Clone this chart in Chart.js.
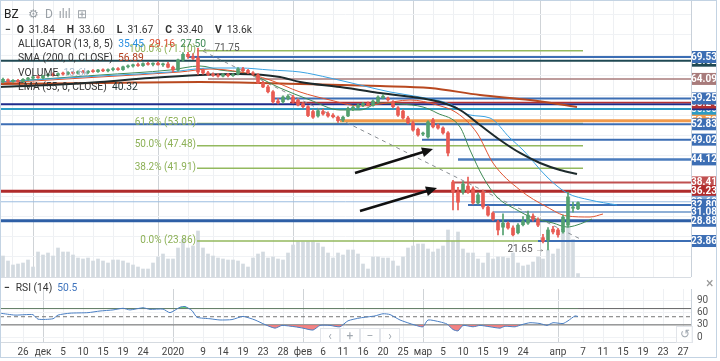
<!DOCTYPE html>
<html>
<head>
<meta charset="utf-8">
<script src="https://cdn.jsdelivr.net/npm/chart.js@4.4.1/dist/chart.umd.min.js"></script>
<style>
  body { margin: 0; background: #fff; }
  #wrap { position: relative; width: 720px; height: 361px; overflow: hidden; font-family: Roboto, "Noto Sans", sans-serif; }
  canvas { position: absolute; left: 0; }
  .row { position: absolute; left: 18px; font-size: 10.3px; color: #333; white-space: nowrap; line-height: 13px; }
  .row b { margin-right: 5px; }
  .row .v { margin-right: 12px; }
  .btn { position: absolute; top: 328px; width: 20px; height: 15px; color: #a0a8b0; font-size: 12px; line-height: 15px; text-align: center; background: rgba(255,255,255,0.8); border: 1px solid #e2e5ea; box-sizing: border-box; }
  #frame { position: absolute; left: 0; top: 0; width: 717px; height: 358px; border: 1px solid #c3d3e3; box-sizing: border-box; pointer-events: none; }
</style>
</head>
<body>
<div id="wrap">
  <canvas id="main" width="720" height="277" style="top:0"></canvas>
  <canvas id="rsi" width="720" height="84" style="top:277px"></canvas>
  <div style="position:absolute;left:0;top:277px;width:691px;height:1px;background:#d8dde3"></div>

  <div class="row" style="left:4px;top:8px;font-size:12px;color:#222">BZ</div>
  <div class="row" style="left:28px;top:8px;font-size:12px;color:#9aa0a6">⚙ &nbsp;D &nbsp;ılıl &nbsp;⊞</div>
  <div class="row" style="left:5px;top:23px"><b style="margin-right:6px">−</b><b>O</b><span class="v">31.84</span><b>H</b><span class="v">33.60</span><b>L</b><span class="v">31.67</span><b>C</b><span class="v">33.40</span><b>V</b><span>13.6k</span></div>
  <div class="row" style="top:37px">ALLIGATOR (13, 8, 5) &nbsp;<span style="color:#2a8fe0">35.45</span> &nbsp;<span style="color:#d9492b">29.16</span> &nbsp;<span style="color:#3f8a55">27.50</span></div>
  <div class="row" style="top:51px">SMA (200, 0, CLOSE) &nbsp;<span style="color:#b23c1c">56.89</span></div>
  <div class="row" style="top:66px">VOLUME &nbsp;<span style="color:#a9bccd">13.6k</span></div>
  <div class="row" style="top:80px">EMA (55, 0, CLOSE) &nbsp;<span style="color:#223333">40.32</span></div>

  <div class="row" style="left:4px;top:281px"><b style="margin-right:6px">−</b>RSI (14) &nbsp;<span style="color:#3f74bd">50.5</span></div>
  <div style="position:absolute;left:706px;top:275px;color:#999;font-size:14px">×</div>

  <div class="btn" style="left:320px">‹</div>
  <div class="btn" style="left:340px">+</div>
  <div class="btn" style="left:360px">−</div>
  <div class="btn" style="left:380px">›</div>
  <div class="btn" style="left:676px;top:326px;width:17px;height:17px">↺</div>
  <div id="frame"></div>
</div>

<script>
'use strict';

// date axis
const dateLabels = ['26','дек','5','10','15','19','24','2020','9','14','19','23','28','фев','6','11','16','20','25','мар','5','10','15','19','24','апр','7','11','15','19','23','27'];
const dateIdx = [4,8,12,16,20,24,28,34,40,44,48,52,56,60,64,68,72,76,80,84,88,92,96,100,104,111,116,120,124,128,132,136];
const monthIdx = [8,34,60,84,111];

// daily candles
const opens = [63.4,63.9,63.5,63.7,63.4,64.0,64.3,64.6,64.4,64.9,65.2,65.0,65.4,65.3,65.7,65.5,65.9,65.7,66.0,65.9,
  66.3,66.1,66.4,66.6,66.4,67.1,67.3,67.6,67.4,67.9,67.7,68.0,67.6,67.8,67.0,66.3,68.8,70.2,69.6,69.3,
  66.3,65.6,65.2,65.0,64.8,65.2,64.9,65.3,66.6,66.2,65.6,65.1,63.1,62.1,60.9,58.6,58.4,59.2,59.6,58.8,
  57.9,57.2,56.0,54.9,56.0,55.5,55.1,54.6,53.9,54.9,56.5,57.0,57.5,58.0,57.5,58.4,59.4,59.3,58.4,56.9,
  56.1,54.4,53.2,51.6,50.4,49.7,53.9,52.6,51.9,50.7,38.5,36.0,36.0,37.5,36.8,33.3,36.0,32.3,30.8,28.6,
  27.3,28.3,27.1,25.9,27.9,28.3,30.0,29.1,24.7,24.1,26.8,26.6,26.1,27.8,32.0,31.84];
const highs = [64.3,64.1,63.9,64.0,64.2,64.5,64.8,65.0,65.0,65.4,65.6,65.6,65.8,65.9,66.0,66.1,66.2,66.2,66.4,66.5,
  66.6,66.6,66.9,66.9,67.3,67.6,67.8,68.0,68.1,68.2,68.1,68.4,68.0,68.2,67.3,69.0,70.6,70.7,70.4,71.75,
  66.6,66.0,65.6,65.4,65.5,65.5,65.4,66.9,67.0,66.5,65.9,65.4,63.5,62.5,61.2,59.2,59.9,60.2,60.0,59.1,
  58.3,57.5,56.4,56.5,56.6,55.9,55.5,54.9,54.9,57.1,57.5,57.9,58.3,58.4,58.9,59.9,60.2,59.6,58.7,57.2,
  56.4,54.8,53.6,51.9,50.9,53.7,54.3,52.9,52.2,51.0,38.9,37.2,38.6,39.7,37.3,35.8,36.5,32.6,31.1,29.0,
  30.6,28.6,27.6,28.2,29.9,31.3,30.6,29.6,25.5,27.2,27.5,27.0,30.3,36.0,33.5,33.60];
const lows = [63.1,63.3,63.2,63.2,63.3,63.7,64.0,64.2,64.1,64.6,64.8,64.8,65.0,65.1,65.3,65.3,65.5,65.4,65.7,65.7,
  65.9,65.8,66.1,66.2,66.2,66.8,67.0,67.2,67.2,67.5,67.3,67.5,67.2,66.8,65.9,66.0,68.5,69.2,68.9,65.2,
  65.3,64.9,64.7,64.5,64.6,64.6,64.7,65.1,65.9,65.4,65.0,62.9,61.9,60.6,58.1,57.9,58.1,58.9,58.1,57.4,
  56.9,54.7,54.3,54.6,55.1,54.6,54.4,53.3,53.5,54.7,56.2,56.7,57.2,57.3,57.3,58.2,59.1,58.6,56.9,54.8,
  54.1,52.9,51.1,49.9,50.0,49.4,51.9,51.6,50.4,45.0,31.6,31.6,35.5,35.7,33.0,33.0,31.8,30.0,29.0,25.4,
  25.4,26.8,25.1,25.6,27.6,28.0,28.8,27.4,23.4,21.65,25.6,24.8,25.8,27.3,31.0,31.67];
const closes = [64.0,63.5,63.7,63.4,64.0,64.3,64.6,64.4,64.9,65.2,65.0,65.4,65.3,65.7,65.5,65.9,65.7,66.0,65.9,66.3,
  66.1,66.4,66.6,66.4,67.1,67.3,67.6,67.4,67.9,67.7,68.0,67.6,67.8,67.0,66.3,68.8,70.2,69.6,69.2,65.8,
  65.6,65.2,65.0,64.8,65.2,64.9,65.1,66.6,66.1,65.6,65.3,63.1,62.1,60.9,58.4,58.2,59.6,59.8,58.4,57.6,
  57.2,55.0,54.6,56.2,55.4,54.9,54.7,53.7,54.6,56.8,57.1,57.6,58.0,57.6,58.6,59.6,59.8,58.9,57.2,55.1,
  54.4,53.2,51.4,50.2,50.6,53.4,52.2,51.9,50.7,45.7,36.0,33.5,38.0,36.0,33.3,35.3,32.3,30.3,29.3,26.6,
  28.3,27.1,25.4,27.8,28.8,30.3,29.3,27.8,23.8,26.6,26.1,25.4,29.8,34.8,32.3,33.40];
const volumes = [84,64,48,52,56,68,40,100,88,96,84,116,100,100,88,76,72,76,64,72,
  64,56,68,68,64,56,48,40,32,32,56,80,92,72,72,116,152,116,124,184,
  116,92,84,76,72,68,68,64,52,40,76,92,100,76,80,72,68,96,128,140,
  140,140,140,136,120,96,76,96,88,108,108,92,52,32,80,80,76,76,64,44,
  80,116,124,132,132,112,100,112,124,188,144,180,112,96,96,72,56,96,72,80,
  80,76,96,56,44,48,60,80,72,108,92,112,176,204,150,13.6];

// indicators as [bar index, value]
const sma200 = [[-0.6,62.83],[19.4,63.08],[39.4,63.33],[59.4,62.83],[75.4,62.33],[85.4,61.84],[95.4,60.10],[105.4,58.86],[114.8,57.12]];
const ema55 = [[-0.6,62.09],[9.4,62.58],[19.4,63.33],[29.4,64.32],[39.4,65.06],[47.4,65.31],[55.4,64.57],[59.4,63.33],[67.4,62.09],[75.4,60.60],[87.4,58.36],[91.4,56.38],[95.4,52.65],[99.4,48.93],[103.4,45.71],[107.4,43.22],[111.4,41.49],[114.8,40.49]];
const jaw = [[-0.6,63.33],[19.4,64.82],[33.4,65.81],[41.4,66.80],[47.4,66.80],[53.4,66.30],[59.4,65.81],[65.4,64.32],[71.4,62.58],[77.4,60.85],[83.4,59.60],[89.4,57.87],[93.4,55.14],[97.4,54.39],[101.4,49.43],[104,46.45],[108.8,39.75],[112.8,35.78],[117.4,34.04],[122.8,32.80]];
const teeth = [[-0.6,63.08],[19.4,64.57],[35.4,65.81],[41.4,66.55],[47.4,65.81],[53.4,63.82],[59.4,60.85],[65.4,58.86],[71.4,57.37],[75.4,57.87],[81.4,58.86],[86.8,57.62],[90.8,55.63],[94.8,50.67],[98,43.22],[103.4,36.52],[108.8,32.30],[112.8,30.07],[117.4,29.82],[120,30.57]];
const lips = [[-0.6,63.33],[19.4,65.06],[33.4,66.30],[39.4,67.30],[43.4,66.30],[49.4,65.31],[55.4,61.84],[61.4,58.86],[67.4,56.38],[71.4,56.38],[75.4,58.12],[79.4,57.87],[84,57.12],[86.8,55.63],[91.4,52.16],[93.4,46.45],[96,39.75],[98.8,34.78],[102.8,31.56],[106,29.57],[110,28.33],[112.8,27.34],[114.8,27.83],[117.8,29.32]];
const rsi = [[-0.6,58.7],[2.4,54],[4.4,55],[6,55],[7,44],[10,45],[11,54],[13.4,58.7],[17,60],[19.4,64],[22,66.7],[24,70.7],[25.4,66.7],[28,72],[29.4,68],[32,68.7],[33.4,60],[35.4,73.3],[36.4,75],[37.8,65],[38.8,48.7],[41.4,45],[43.4,42],[45.8,43],[48,50.7],[50.4,42],[52.4,30.7],[54.4,22],[55.8,28.7],[58.4,25.3],[60,22],[62,17.3],[63.4,28.7],[65.4,28.7],[67.4,25.3],[69,40],[71.4,47],[74.4,52],[76,57.3],[77.4,55.3],[79.4,42],[81.4,33.3],[83,27.3],[84,25.3],[85,42],[87.4,37.3],[88.8,32],[90,18.7],[91,15.3],[92,28.7],[94,25.3],[95.4,28.7],[97.4,25.3],[99.4,22],[100.4,26.7],[102.4,25.3],[103.8,30.7],[105.4,35.3],[107.4,33.3],[108.8,28.7],[110,35.3],[112,33.3],[113,40],[114.4,52],[115,50.5]];

// horizontal levels drawn on the chart
const levelValues = [69.53,68.62,64.09,59.25,58.24,57.80,56.60,53.72,52.83,49.02,44.12,38.41,36.23,33.60,32.80,31.08,28.88,23.86];
const levelStarts = [37,-0.6,41,53.8,57.4,-0.6,-0.6,67.4,-0.6,83.8,91,89.8,-0.6,-0.6,93,98,-0.6,107];
const levelColors = ['#3c6eb4','#1f4953','#a87b7b','#3c6eb4','#b43232','#1f2c8c','#2d9cc4','#f29a4b','#3c6eb4','#3c6eb4','#4a7bbd','#c05050','#b02b2b','#9cbde0','#3c6eb4','#6a94c8','#2e5fa6','#3c6eb4'];
const levelWidths = [2,2,1.5,2,1.5,2,2,3,2,2,2.5,2,3,1,2,1.5,3,2];

// price tags on the right axis (drawn in this order)
const tagValues = [68.62,69.53,64.09,56.60,57.80,58.24,59.25,53.72,52.83,49.02,44.12,38.41,36.23,33.60,32.80,31.08,28.88,23.86];
const tagColors = ['#1f4953','#3c6eb4','#a87b7b','#2d9cc4','#1f2c8c','#b43232','#3c6eb4','#f29a4b','#3c6eb4','#3c6eb4','#3c6eb4','#c05050','#b02b2b','#7fa6d4','#3c6eb4','#3c6eb4','#3c6eb4','#3c6eb4'];

// fibonacci retracement
const fibLevels = [71.10,53.05,47.48,41.91,23.86];
const fibNames = ['100.0%','61.8%','50.0%','38.2%','0.0%'];
const fibStart = 38.8, fibEnd = 116;
const trendFrom = [40, 71.0], trendTo = [115.4, 24.4];

// drawn arrows [x0, y0, x1, y1] in bar index / price
const arrows = [[70.4,40.74,86,46.70],[71.4,31.31,86.8,37.01]];

const xMin = -0.6, xMax = 137.6;
const upCol = '#53a06f', downCol = '#e85a52';

const idx = opens.map((v, i) => i);
const candleCol = ctx => closes[ctx.dataIndex] >= opens[ctx.dataIndex] ? upCol : downCol;
const toPts = arr => arr.map(p => ({x: p[0], y: p[1]}));

let datasets = [];
datasets.push({
    type: 'bar', label: 'body', order: 0, grouped: false, barThickness: 3, minBarLength: 1,
    data: idx.map(i => ({x: i, y: [opens[i], closes[i]]})),
    backgroundColor: candleCol,
});
datasets.push({
    type: 'bar', label: 'wick', order: 1, grouped: false, barThickness: 1,
    data: idx.map(i => ({x: i, y: [lows[i], highs[i]]})),
    backgroundColor: candleCol,
});
datasets.push({
    type: 'bar', label: 'volume', order: 20, grouped: false, barThickness: 3, yAxisID: 'yv',
    data: idx.map(i => ({x: i, y: volumes[i]})),
    backgroundColor: '#d3dae0',
});

const lineSet = (data, color, width, order, extra) => Object.assign({
    type: 'line', data: data, borderColor: color, borderWidth: width, pointRadius: 0,
    tension: 0.35, cubicInterpolationMode: 'monotone', order: order, fill: false,
}, extra || {});

datasets.push(lineSet(toPts(ema55), '#1d2a2c', 2, 3));
datasets.push(lineSet(toPts(jaw), '#3aa3e3', 1, 4));
datasets.push(lineSet(toPts(teeth), '#e0532f', 1, 4));
datasets.push(lineSet(toPts(lips), '#3f8a55', 1, 4));
datasets.push(lineSet(toPts(sma200), '#b8481f', 2, 5));
datasets.push(lineSet([{x: trendFrom[0], y: trendFrom[1]}, {x: trendTo[0], y: trendTo[1]}], '#8a8f94', 1, 6, {borderDash: [4, 4], tension: 0}));
levelValues.forEach((v, k) => {
    datasets.push(lineSet([{x: levelStarts[k], y: v}, {x: xMax, y: v}], levelColors[k], levelWidths[k], 8, {tension: 0}));
});
fibLevels.forEach(v => {
    datasets.push(lineSet([{x: fibStart, y: v}, {x: fibEnd, y: v}], '#93b95e', 1.5, 9, {tension: 0}));
});

const overlay = {
    id: 'overlay',
    afterDraw(chart) {
        const {ctx, scales: {x, y}} = chart;
        ctx.save();
        // fib labels
        ctx.font = '10px Roboto';
        ctx.fillStyle = '#8db157';
        ctx.textAlign = 'right';
        ctx.textBaseline = 'middle';
        fibLevels.forEach((v, k) => {
            ctx.fillText(fibNames[k] + ' (' + v.toFixed(2) + ')', x.getPixelForValue(fibStart) - 1, y.getPixelForValue(v) - 1);
        });
        // extreme markers
        ctx.fillStyle = '#555';
        ctx.textAlign = 'left';
        ctx.fillText('← ' + highs[39].toFixed(2), x.getPixelForValue(39.8), y.getPixelForValue(highs[39]));
        ctx.textAlign = 'right';
        ctx.fillText(lows[109].toFixed(2) + ' →', x.getPixelForValue(108.4), y.getPixelForValue(lows[109]));
        // arrows
        ctx.strokeStyle = '#111';
        ctx.fillStyle = '#111';
        ctx.lineWidth = 2.5;
        arrows.forEach(a => {
            const x0 = x.getPixelForValue(a[0]), y0 = y.getPixelForValue(a[1]);
            const x1 = x.getPixelForValue(a[2]), y1 = y.getPixelForValue(a[3]);
            const ang = Math.atan2(y1 - y0, x1 - x0);
            ctx.beginPath();
            ctx.moveTo(x0, y0);
            ctx.lineTo(x1 - 6 * Math.cos(ang), y1 - 6 * Math.sin(ang));
            ctx.stroke();
            ctx.beginPath();
            ctx.moveTo(x1, y1);
            ctx.lineTo(x1 - 11 * Math.cos(ang) + 5 * Math.sin(ang), y1 - 11 * Math.sin(ang) - 5 * Math.cos(ang));
            ctx.lineTo(x1 - 11 * Math.cos(ang) - 5 * Math.sin(ang), y1 - 11 * Math.sin(ang) + 5 * Math.cos(ang));
            ctx.closePath();
            ctx.fill();
        });
        // right axis separator and price tags
        const right = chart.chartArea.right;
        ctx.fillStyle = '#c9d1da';
        ctx.fillRect(right, 0, 1, chart.height);
        ctx.font = 'bold 10px Roboto';
        ctx.textAlign = 'center';
        tagValues.forEach((v, k) => {
            const py = y.getPixelForValue(v);
            ctx.fillStyle = tagColors[k];
            ctx.fillRect(right + 1, py - 6, 24, 12);
            ctx.fillStyle = '#fff';
            ctx.fillText(v.toFixed(2), right + 13, py + 0.5);
        });
        ctx.restore();
    }
};

const gridCol = ctx => monthIdx.includes(ctx.tick && ctx.tick.value) ? '#cfd3d7' : '#eef0f3';

const mainChart = new Chart(document.getElementById('main'), {
    type: 'bar',
    data: {datasets: datasets},
    options: {
        responsive: false,
        animation: false,
        layout: {padding: 0},
        plugins: {legend: {display: false}, tooltip: {enabled: false}},
        scales: {
            x: {
                type: 'linear', min: xMin, max: xMax, offset: false,
                grid: {color: gridCol, drawTicks: false},
                border: {display: false},
                ticks: {display: false},
                afterBuildTicks: s => { s.ticks = dateIdx.map(v => ({value: v})); },
                afterFit: s => { s.height = 0; },
            },
            y: {
                position: 'right', min: 14.93, max: 83.68,
                grid: {color: '#f0f2f5', drawTicks: false},
                border: {display: false},
                ticks: {display: false},
                afterBuildTicks: s => { s.ticks = [20,25,30,35,40,45,50,55,60,65,70,75,80].map(v => ({value: v})); },
                afterFit: s => { s.width = 29; },
            },
            yv: {display: false, min: 0, max: 1108},
        },
    },
    plugins: [overlay],
});

const rsiPts = toPts(rsi);
const rsiChart = new Chart(document.getElementById('rsi'), {
    type: 'line',
    data: {
        datasets: [
            {data: rsiPts, borderColor: '#4a7fc4', borderWidth: 1, pointRadius: 0, tension: 0.2,
             fill: {target: {value: 70}, above: 'rgba(76,200,90,0.85)', below: 'rgba(0,0,0,0)'}, order: 0},
            {data: rsiPts, borderColor: 'rgba(0,0,0,0)', borderWidth: 0, pointRadius: 0, tension: 0.2,
             fill: {target: {value: 30}, above: 'rgba(0,0,0,0)', below: 'rgba(240,110,110,0.85)'}, order: 1},
            {data: [{x: xMin, y: 70}, {x: xMax, y: 70}], borderColor: '#666', borderWidth: 1, pointRadius: 0, order: 2},
            {data: [{x: xMin, y: 30}, {x: xMax, y: 30}], borderColor: '#666', borderWidth: 1, pointRadius: 0, order: 2},
            {data: [{x: xMin, y: 50}, {x: xMax, y: 50}], borderColor: '#777', borderWidth: 1, borderDash: [4, 3], pointRadius: 0, order: 2},
        ],
    },
    options: {
        responsive: false,
        animation: false,
        layout: {padding: 0},
        plugins: {legend: {display: false}, tooltip: {enabled: false}},
        scales: {
            x: {
                type: 'linear', min: xMin, max: xMax, offset: false,
                grid: {color: gridCol, drawTicks: false},
                border: {display: true, color: '#d5dae0'},
                ticks: {
                    autoSkip: false, maxRotation: 0, padding: 4, color: '#444',
                    font: {size: 10, family: 'Roboto'},
                    callback: v => dateLabels[dateIdx.indexOf(v)],
                },
                afterBuildTicks: s => { s.ticks = dateIdx.map(v => ({value: v})); },
                afterFit: s => { s.height = 19; },
            },
            y: {
                position: 'right', min: -12, max: 118,
                grid: {color: '#f0f2f5', drawTicks: false},
                border: {display: true, color: '#c9d1da'},
                ticks: {padding: 6, color: '#555', font: {size: 10, family: 'Roboto'}},
                afterBuildTicks: s => { s.ticks = [0, 30, 60, 90].map(v => ({value: v})); },
                afterFit: s => { s.width = 29; },
            },
        },
    },
});
</script>
</body>
</html>
